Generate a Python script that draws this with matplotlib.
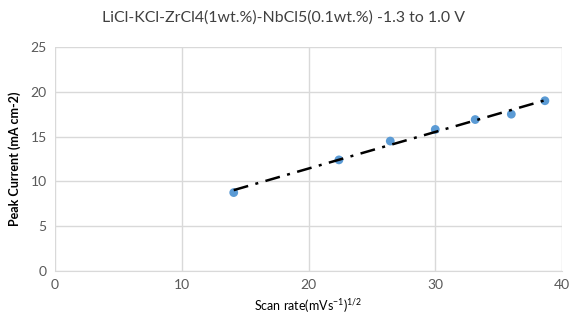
import numpy as np
import matplotlib
matplotlib.use("Agg")
import matplotlib.pyplot as plt

plt.rcParams['font.family'] = ['Lato', 'DejaVu Sans']
plt.rcParams['mathtext.fontset'] = 'custom'
plt.rcParams['mathtext.rm'] = 'Lato'
plt.rcParams['mathtext.it'] = 'Lato'
plt.rcParams['mathtext.default'] = 'regular'

scan_rate_sqrt = [14.1, 22.4, 26.45, 30.0, 33.15, 36.0, 38.65]
peak_current = [8.75, 12.4, 14.5, 15.8, 16.9, 17.5, 19.0]
x_ticks = [0, 10, 20, 30, 40]
y_ticks = [0, 5, 10, 15, 20, 25]
title = "LiCl-KCl-ZrCl4(1wt.%)-NbCl5(0.1wt.%) -1.3 to 1.0 V"

fig = plt.figure(figsize=(5.7, 3.24), dpi=100)
ax = fig.add_axes([0.0965, 0.1636, 0.8895, 0.6914])

x = np.array(scan_rate_sqrt)
y = np.array(peak_current)
m, b = np.polyfit(x, y, 1)
xf = np.array([x.min(), x.max()])
ax.scatter(x, y, s=40, color='#5B9BD5', zorder=3, edgecolors='none')
ax.plot(xf, m * xf + b, color='black', lw=1.8, dashes=[6, 3, 1.2, 3], zorder=4)

ax.set_xlim(0, 40)
ax.set_ylim(0, 25)
ax.set_xticks(x_ticks)
ax.set_yticks(y_ticks)
ax.grid(True, color='#D9D9D9', lw=1)
ax.set_axisbelow(True)
for s in ax.spines.values():
    s.set_visible(False)
ax.spines['bottom'].set_visible(True)
ax.spines['bottom'].set_color('#D9D9D9')
ax.tick_params(length=0, labelsize=10, colors='#595959', pad=6)
ax.set_xlabel(r"Scan rate(mVs$^{-1}$)$^{1/2}$", fontsize=9, color='black', labelpad=4)
ax.set_ylabel("Peak Current (mA cm-2)", fontsize=9, fontweight='bold', color='black', labelpad=7)
fig.text(0.498, 0.946, title, ha='center', va='center', fontsize=11.4, color='#404040')

fig.savefig("out.png", dpi=100)
